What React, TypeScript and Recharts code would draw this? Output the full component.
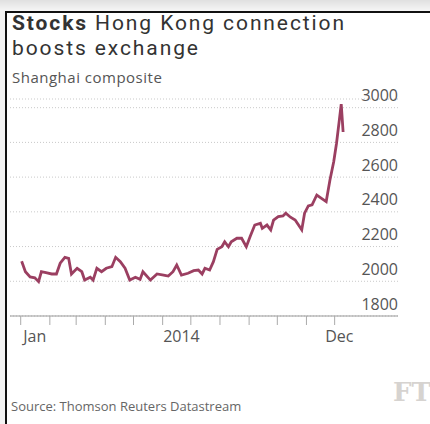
import { LineChart, Line, XAxis, YAxis, CartesianGrid } from 'recharts';

// day of 2014 (0 = Jan 1) and Shanghai composite close
const days = [
  1, 5, 10, 15, 19, 22, 28, 33, 38, 42, 47, 51, 54, 60, 65, 68, 74, 77, 81, 86,
  91, 97, 101, 106, 111, 116, 122, 127, 130, 138, 145, 152, 157, 162, 166, 171,
  178, 184, 189, 193, 196, 201, 205, 209, 214, 217, 221, 224, 230, 235, 240,
  244, 249, 255, 257, 262, 266, 269, 274, 279, 282, 287, 292, 299, 302, 306,
  310, 315, 320, 325, 329, 333, 336, 339, 341, 343,
];
const values = [
  2115, 2055, 2025, 2020, 1998, 2055, 2048, 2042, 2042, 2104, 2138, 2132, 2042,
  2075, 2055, 2007, 2023, 2007, 2075, 2055, 2075, 2084, 2138, 2113, 2075, 2007,
  2023, 2011, 2055, 2007, 2042, 2036, 2030, 2055, 2094, 2036, 2046, 2061, 2065,
  2042, 2075, 2065, 2113, 2184, 2199, 2228, 2199, 2228, 2248, 2248, 2199, 2257,
  2324, 2334, 2305, 2324, 2296, 2353, 2372, 2376, 2392, 2369, 2353, 2296, 2392,
  2434, 2440, 2497, 2478, 2459, 2584, 2689, 2795, 2930, 3020, 2860,
];

const monthStarts = [0, 31, 59, 90, 120, 151, 181, 212, 243, 273, 304, 334];
const xLabelDays = [15, 171, 339];
const xLabels = ['Jan', '2014', 'Dec'];
const yTicks = [1800, 2000, 2200, 2400, 2600, 2800, 3000];

const data = days.map((d, i) => ({ day: d, value: values[i] }));

const FONT = '"Open Sans", sans-serif';
const TITLE_FONT = 'Roboto, sans-serif';

function XTick({ x, y, payload }: any) {
  const i = xLabelDays.indexOf(payload.value);
  if (i >= 0) {
    return (
      <text x={x} y={y + 26} textAnchor="middle" fontSize={16} fill="#555" fontFamily={FONT}>
        {xLabels[i]}
      </text>
    );
  }
  return <line x1={x} x2={x} y1={y} y2={y + 9} stroke="#aaa" strokeWidth={1} />;
}

function YTick({ y, payload }: any) {
  return (
    <text x={398} y={y - 6.5} textAnchor="end" fontSize={16} fill="#555" fontFamily={FONT}>
      {payload.value}
    </text>
  );
}

export default function App() {
  return (
    <div
      style={{
        position: 'absolute',
        left: 0,
        top: 0,
        width: 430,
        height: 424,
        background: '#fff',
        overflow: 'hidden',
      }}
    >
      <div style={{ position: 'absolute', left: 0, top: 0, width: 430, height: 11, background: 'linear-gradient(#e0e0e0, #f6f6f6)' }} />
      <div style={{ position: 'absolute', left: 0, top: 11, width: 5, height: 413, background: '#f3f3f3' }} />
      <div style={{ position: 'absolute', left: 5, top: 11, width: 425, height: 2, background: '#111' }} />
      <div style={{ position: 'absolute', left: 5, top: 11, width: 2, height: 413, background: '#111' }} />

      <div style={{ position: 'absolute', left: 0, top: 0 }}>
        <LineChart width={430} height={356} data={data} margin={{ top: 99, right: 2, bottom: 0, left: 10 }}>
          <CartesianGrid vertical={false} stroke="#c9c9c9" strokeDasharray="1 2" />
          <XAxis
            dataKey="day"
            type="number"
            domain={[-11.4, 401.4]}
            ticks={[...monthStarts, ...xLabelDays]}
            interval={0}
            height={40}
            tickSize={0}
            tickMargin={0}
            tickLine={false}
            axisLine={{ stroke: '#999' }}
            tick={<XTick />}
          />
          <YAxis
            orientation="right"
            width={30}
            domain={[1800, 3050]}
            ticks={yTicks}
            interval={0}
            tickSize={0}
            tickMargin={0}
            tickLine={false}
            axisLine={false}
            tick={<YTick />}
          />
          <Line
            type="linear"
            dataKey="value"
            stroke="#9b3f61"
            strokeWidth={2.8}
            dot={false}
            isAnimationActive={false}
          />
        </LineChart>
      </div>

      <svg width={430} height={424} style={{ position: 'absolute', left: 0, top: 0, pointerEvents: 'none' }}>
        <text x={12} y={30} fontSize={21} letterSpacing={1.9} fill="#333" fontFamily={TITLE_FONT}>
          <tspan fontWeight={700}>Stocks</tspan>
          <tspan> Hong Kong connection</tspan>
        </text>
        <text x={12} y={55} fontSize={21} letterSpacing={1.9} fill="#333" fontFamily={TITLE_FONT}>
          boosts exchange
        </text>
        <text x={12} y={83} fontSize={15} letterSpacing={0.5} fill="#555" fontFamily={FONT}>
          Shanghai composite
        </text>
        <text x={11} y={411} fontSize={13} fill="#666" fontFamily={FONT}>
          Source: Thomson Reuters Datastream
        </text>
        <text x={393} y={401} fontSize={26} fontWeight={700} fill="#d6d3d0" fontFamily='"DejaVu Serif", serif'>
          FT
        </text>
      </svg>
    </div>
  );
}
